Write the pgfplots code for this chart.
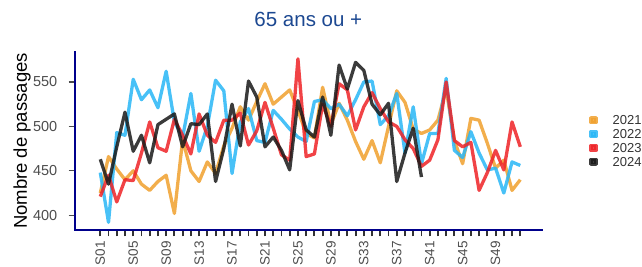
\documentclass[border=0pt]{standalone}
\usepackage{pgfplots}
\usepackage{pgfplotstable}
\pgfplotsset{compat=1.18}
\usepackage{fontspec}
\setmainfont{Liberation Sans}
\definecolor{c2021}{RGB}{240,160,45}
\definecolor{c2022}{RGB}{40,182,246}
\definecolor{c2023}{RGB}{238,34,38}
\definecolor{c2024}{RGB}{25,25,25}
\definecolor{axnavy}{RGB}{0,0,140}
\definecolor{ticktxt}{RGB}{77,77,77}
\definecolor{tickmk}{RGB}{51,51,51}
\definecolor{titleblue}{RGB}{28,72,145}
\pgfplotstableread{
w o b r k
1 425 448 421 463
2 466 392 445 435
3 452 493 415 477
4 440 490 440 516
5 450 553 439 472
6 435 530 470 490
7 428 541 505 459
8 438 521 476 502
9 445 562 472 508
10 402 505 508 514
11 485 488 490 477
12 450 537 469 503
13 438 472 514 502
14 460 500 490 514
15 447 552 482 438
16 478 540 507 475
17 498 447 507 525
18 522 505 515 478
19 507 520 479 551
20 528 484 495 533
21 548 482 527 477
22 525 518 498 488
23 533 508 468 473
24 541 497 462 451
25 518 488 576 529
26 492 483 466 496
27 487 528 469 488
28 544 530 525 533
29 502 520 500 490
30 526 525 548 569
31 507 512 541 542
32 483 530 496 572
33 463 550 522 563
34 484 551 538 525
35 459 502 520 513
36 500 512 505 526
37 540 537 500 438
38 527 470 485 470
39 497 522 475 498
40 492 458 455 443
41 496 492 462 nan
42 507 492 485 nan
43 542 554 550 nan
44 484 473 484 nan
45 458 465 477 nan
46 509 494 482 nan
47 507 470 428 nan
48 481 451 448 nan
49 453 453 473 nan
50 462 425 451 nan
51 428 460 505 nan
52 440 456 477 nan
}\datatable
\begin{document}
\begin{tikzpicture}
\path[use as bounding box] (0,0) rectangle (642pt,267pt);
\begin{axis}[
  at={(75pt,37pt)}, anchor=south west,
  scale only axis, width=466.7pt, height=178pt,
  xmin=-2.07, xmax=54.6, ymin=383.4, ymax=583.7,
  axis x line*=bottom, axis y line*=left,
  axis line style={-, line width=2.6pt, draw=axnavy, line cap=rect},
  tick align=outside,
  major tick length=6.5pt,
  xtick={1,...,52},
  xticklabels={S01,,,,S05,,,,S09,,,,S13,,,,S17,,,,S21,,,,S25,,,,S29,,,,S33,,,,S37,,,,S41,,,,S45,,,,S49,,,},
  ytick={400,450,500,550},
  xtick style={line width=1.9pt, draw=tickmk},
  ytick style={line width=1.2pt, draw=ticktxt},
  /pgf/number format/assume math mode=true,
  yticklabel style={font=\fontsize{14.5}{14.5}\selectfont, text=ticktxt, anchor=east, inner sep=0pt, xshift=-11pt},
  xticklabel style={font=\fontsize{13.5}{13.5}\selectfont, text=ticktxt, rotate=90, anchor=east, inner sep=0pt, xshift=-4.5pt},
  title={65 ans ou +},
  title style={at={(axis description cs:0.5,1)}, anchor=base, yshift=19pt, font=\fontsize{20.5}{20.5}\selectfont, text=titleblue, inner sep=0pt},
  ylabel={Nombre de passages},
  ylabel style={at={(axis description cs:-0.1029,0.5)}, anchor=base, rotate=0, font=\fontsize{18.5}{18.5}\selectfont, text=black, inner sep=0pt},
  legend style={at={(axis description cs:1.102,0.5)}, anchor=west, draw=none, fill=none, inner sep=0pt, outer sep=0pt,
    font=\fontsize{13}{13}\selectfont, row sep=4.4pt, column sep=15pt,
    nodes={inner sep=0pt, text height=9.5pt, text depth=0pt, text=black!80}},
  legend cell align=left,
  legend image code/.code={\fill[#1, opacity=0.85] (0pt,-2.5pt) rectangle (5pt,2.5pt);},
  every axis plot/.append style={line width=3.3pt, line join=round, opacity=0.85},
  unbounded coords=jump,
]
\addplot[c2021] table[x=w, y=o] {\datatable};
\addplot[c2022] table[x=w, y=b] {\datatable};
\addplot[c2023] table[x=w, y=r] {\datatable};
\addplot[c2024] table[x=w, y=k] {\datatable};
\legend{2021,2022,2023,2024}
\end{axis}
\end{tikzpicture}
\end{document}
